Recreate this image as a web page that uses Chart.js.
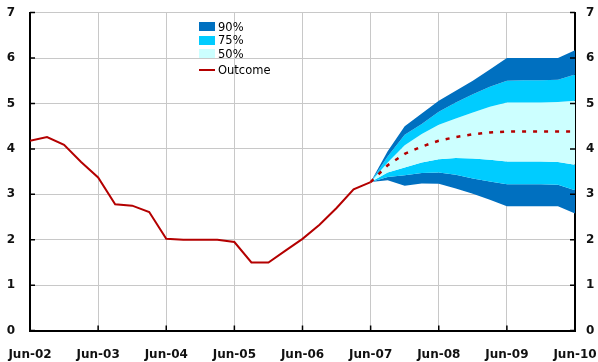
<!DOCTYPE html>
<html>
<head>
  <meta charset="UTF-8">
  <title>Fan chart</title>
  <script src="https://cdn.jsdelivr.net/npm/chart.js"></script>
  <style>
    body { margin: 0; background: #fff; }
    #wrap { position: relative; width: 598px; height: 362px; }
    #legend { position: absolute; left: 199px; top: 20px; font: 11.5px "DejaVu Sans", sans-serif; color: #000; }
    .row { height: 13.5px; display: flex; align-items: center; }
    .row.line { margin-top: 2.5px; }
    .sw { width: 16px; height: 9px; margin-right: 3px; }
    .ln { width: 16px; height: 2px; margin-right: 3px; }
  </style>
</head>
<body>
  <div id="wrap">
    <canvas id="fanChart" width="598" height="362"></canvas>
    <div id="legend"></div>
  </div>

  <script>
    // x is a quarter index: 0 = Jun-02 ... 32 = Jun-10
    const tickLabels = ['Jun-02', 'Jun-03', 'Jun-04', 'Jun-05', 'Jun-06', 'Jun-07', 'Jun-08', 'Jun-09', 'Jun-10'];

    // Jun-02 .. Jun-07, quarterly
    const outcome = [4.18, 4.26, 4.09, 3.71, 3.37, 2.78, 2.75, 2.61, 2.02, 2.00, 2.00, 2.00, 1.95,
                     1.50, 1.50, 1.76, 2.02, 2.33, 2.70, 3.11, 3.27];

    // Jun-07 .. Jun-10, quarterly
    const forecastStart = 20;
    const upper90 = [3.27, 3.95, 4.50, 4.78, 5.06, 5.28, 5.50, 5.75, 6.00, 6.00, 6.00, 6.00, 6.17];
    const upper75 = [3.27, 3.83, 4.31, 4.55, 4.82, 5.02, 5.20, 5.37, 5.50, 5.51, 5.51, 5.52, 5.64];
    const upper50 = [3.27, 3.70, 4.08, 4.33, 4.53, 4.67, 4.80, 4.93, 5.02, 5.02, 5.02, 5.03, 5.06];
    const median  = [3.27, 3.64, 3.89, 4.05, 4.18, 4.26, 4.32, 4.36, 4.38, 4.38, 4.38, 4.38, 4.38];
    const lower50 = [3.27, 3.48, 3.59, 3.70, 3.77, 3.80, 3.79, 3.76, 3.72, 3.72, 3.72, 3.71, 3.65];
    const lower75 = [3.27, 3.38, 3.42, 3.47, 3.48, 3.43, 3.35, 3.28, 3.22, 3.22, 3.22, 3.21, 3.09];
    const lower90 = [3.27, 3.31, 3.19, 3.24, 3.23, 3.13, 3.01, 2.88, 2.74, 2.74, 2.74, 2.74, 2.58];

    const DARK = '#0070c0', MID = '#00ccff', LIGHT = '#ccffff', RED = '#b40000';

    const pts = (arr, start) => arr.map((v, i) => ({ x: start + i, y: v }));

    function band(label, arr, color, fill) {
      return {
        label: label,
        data: pts(arr, forecastStart),
        borderWidth: 0,
        pointRadius: 0,
        backgroundColor: color,
        fill: fill,
        order: 2,
      };
    }

    // little inward tick marks, like the original
    const innerTicks = {
      id: 'innerTicks',
      afterDraw(chart) {
        const { ctx, chartArea: a, scales } = chart;
        ctx.save();
        ctx.strokeStyle = '#000';
        ctx.lineWidth = 1.5;
        ctx.beginPath();
        scales.y.ticks.forEach(t => {
          const y = scales.y.getPixelForValue(t.value);
          ctx.moveTo(a.left, y); ctx.lineTo(a.left + 5, y);
          ctx.moveTo(a.right - 5, y); ctx.lineTo(a.right, y);
        });
        scales.x.ticks.forEach(t => {
          const x = scales.x.getPixelForValue(t.value);
          ctx.moveTo(x, a.bottom); ctx.lineTo(x, a.bottom - 5);
        });
        ctx.stroke();
        ctx.restore();
      }
    };

    // fixed box sizes so the plot area lands where the original has it
    const fixBox = (w, h) => s => {
      if (w) s.width = w;
      if (h) s.height = h;
      s.paddingLeft = s.paddingRight = s.paddingTop = s.paddingBottom = 0;
    };

    const tickFont = { family: 'DejaVu Sans', size: 12, weight: 'bold' };

    const chart = new Chart(document.getElementById('fanChart').getContext('2d'), {
      type: 'line',
      data: {
        datasets: [
          band('90%', upper90, DARK, '+1'),
          band('75%', upper75, MID, '+1'),
          band('50%', upper50, LIGHT, '+1'),
          band('', lower50, MID, '+1'),
          band('', lower75, DARK, '+1'),
          band('', lower90, DARK, false),
          {
            label: 'Median',
            data: pts(median, forecastStart),
            borderColor: RED,
            borderWidth: 2.5,
            borderDash: [4, 7],
            pointRadius: 0,
            fill: false,
            order: 1,
          },
          {
            label: 'Outcome',
            data: pts(outcome, 0),
            borderColor: RED,
            borderWidth: 2,
            pointRadius: 0,
            fill: false,
            order: 0,
          },
        ],
      },
      options: {
        responsive: false,
        animation: false,
        layout: { padding: { top: 12.6, left: 0, right: 0, bottom: 0 } },
        plugins: { legend: { display: false }, tooltip: { enabled: false } },
        elements: { line: { tension: 0 } },
        scales: {
          x: {
            type: 'linear',
            min: 0,
            max: 32,
            afterFit: fixBox(0, 31.4),
            ticks: {
              stepSize: 4,
              padding: 17,
              color: '#111',
              font: tickFont,
              maxRotation: 0,
              callback: v => tickLabels[v / 4],
            },
            grid: { color: '#c8c8c8', lineWidth: 1, drawTicks: false },
            border: { color: '#000', width: 2 },
          },
          y: {
            min: 0,
            max: 7,
            afterFit: fixBox(30, 0),
            ticks: { stepSize: 1, padding: 15, color: '#111', font: tickFont },
            grid: { color: '#c8c8c8', lineWidth: 1, drawTicks: false },
            border: { color: '#000', width: 2 },
          },
          y2: {
            position: 'right',
            min: 0,
            max: 7,
            afterFit: fixBox(23, 0),
            ticks: { stepSize: 1, padding: 11, color: '#111', font: tickFont },
            grid: { drawOnChartArea: false, drawTicks: false },
            border: { color: '#000', width: 2 },
          },
        },
      },
      plugins: [innerTicks],
    });

    // legend drawn from the datasets that carry a label
    const legend = document.getElementById('legend');
    chart.data.datasets.forEach(ds => {
      if (!ds.label || ds.label === 'Median') return;
      const row = document.createElement('div');
      const isLine = ds.fill === false;
      row.className = 'row' + (isLine ? ' line' : '');
      const mark = document.createElement('span');
      mark.className = isLine ? 'ln' : 'sw';
      mark.style.background = isLine ? ds.borderColor : ds.backgroundColor;
      row.appendChild(mark);
      row.appendChild(document.createTextNode(ds.label));
      legend.appendChild(row);
    });
  </script>
</body>
</html>
